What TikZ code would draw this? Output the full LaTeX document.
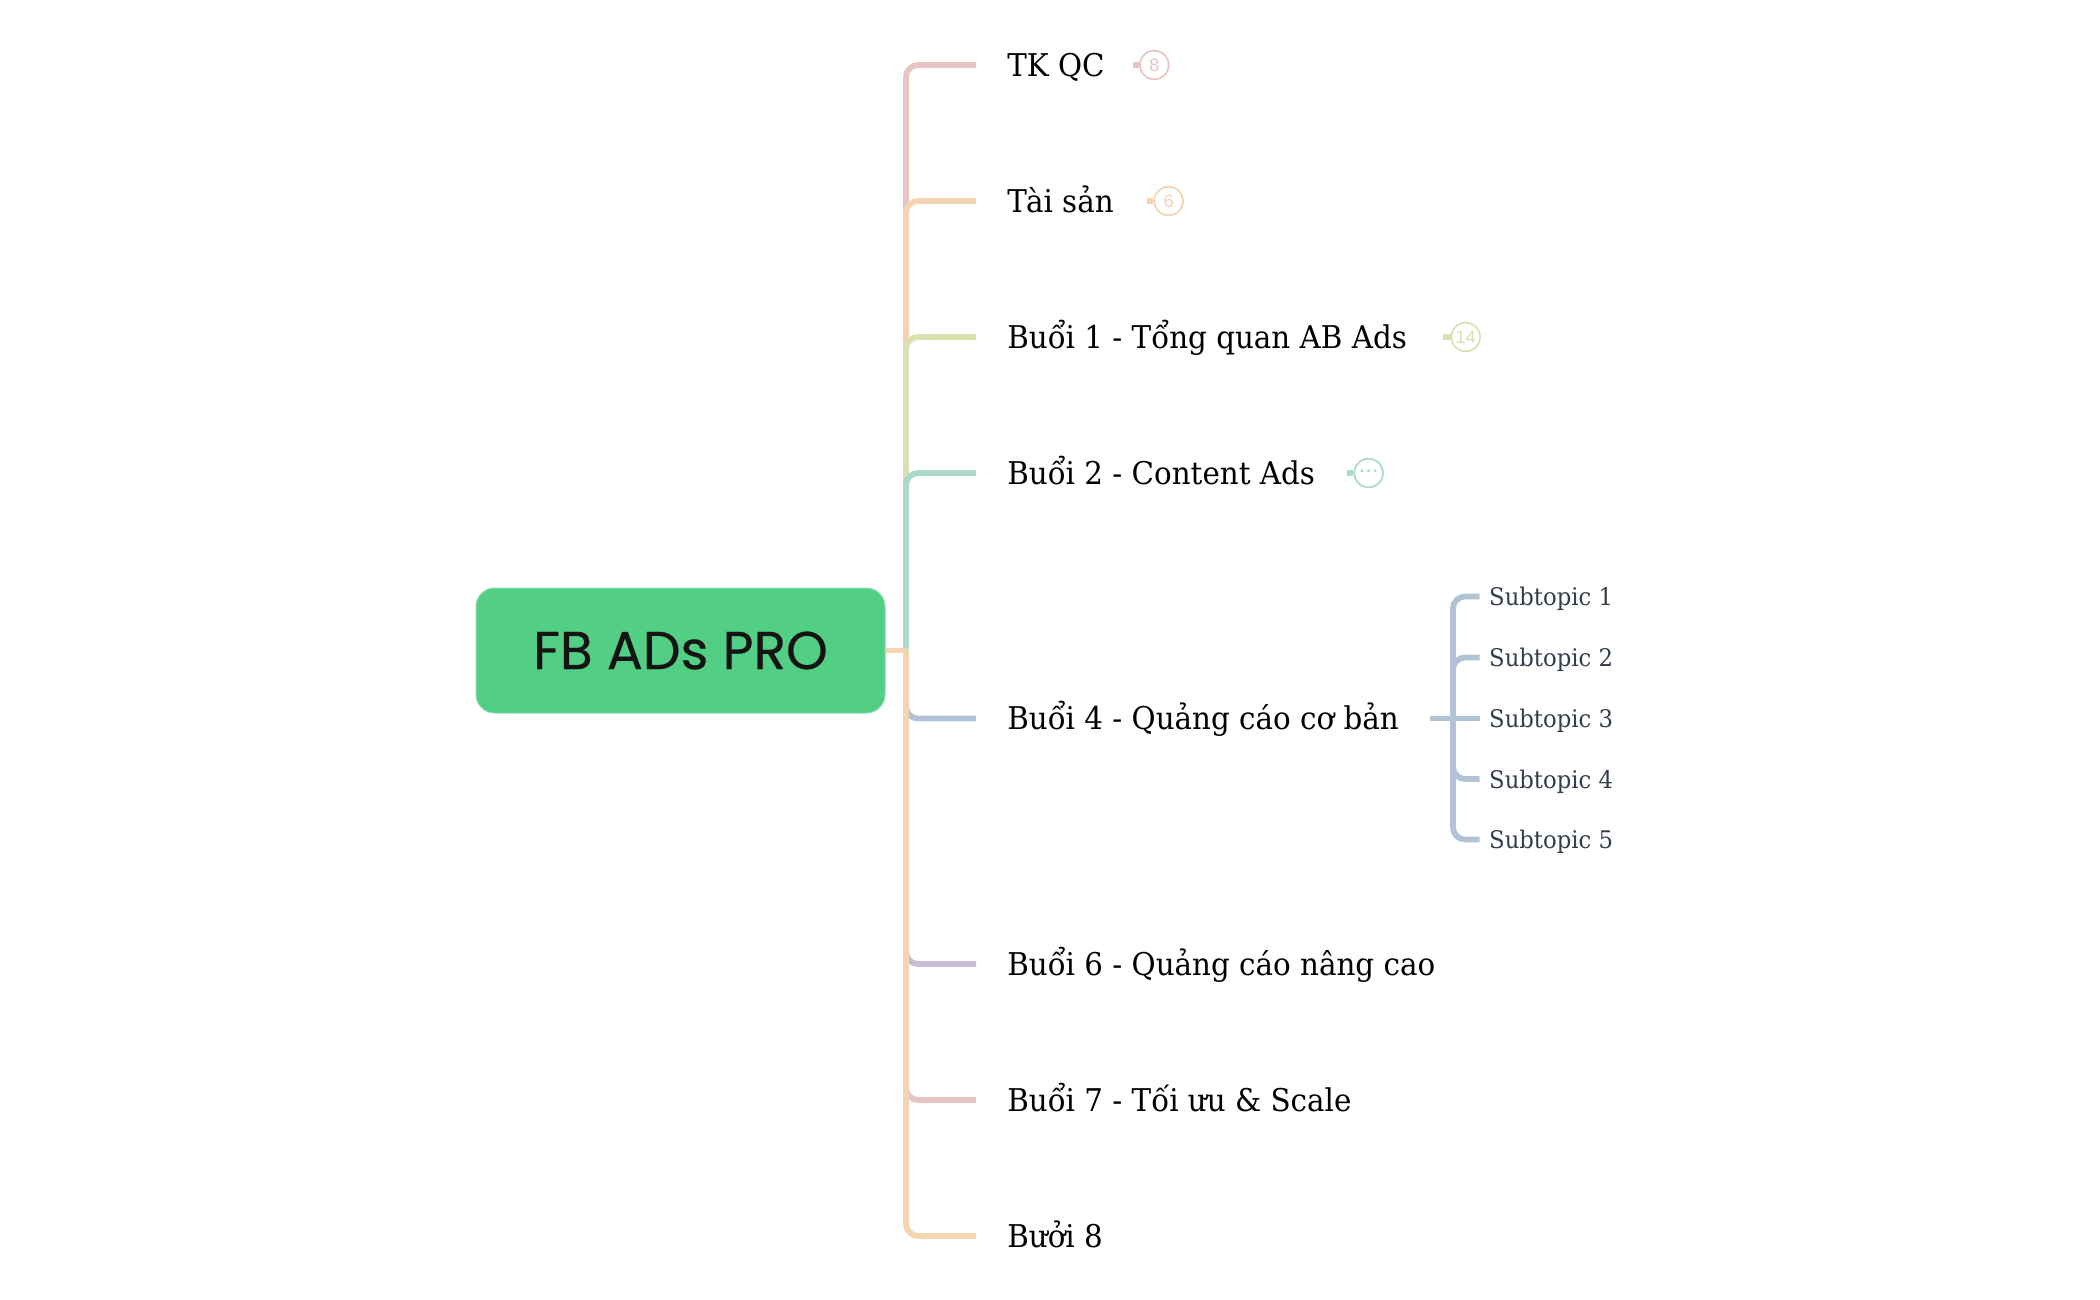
\documentclass[tikz,border=0pt]{standalone}
\usepackage{fontspec}
\setmainfont[FakeStretch=0.937]{DejaVu Serif}
\newfontfamily\titlefont[FakeBold=0.4]{Poppins}
\newfontfamily\badgefont{Liberation Sans}
\definecolor{cpink}{HTML}{E8C5C5}
\definecolor{corange}{HTML}{F3D5B2}
\definecolor{cgreen}{HTML}{DDE0AF}
\definecolor{cteal}{HTML}{ACD9CE}
\definecolor{cblue}{HTML}{B2C3D6}
\definecolor{cpurple}{HTML}{CABCD2}
\definecolor{cbox}{HTML}{53CE85}
\definecolor{csub}{HTML}{343D4B}
\tikzset{
  conn/.style={line width=4.4pt,rounded corners=9pt},
  topic/.style={anchor=west,inner xsep=23.25pt,inner ysep=0pt,text height=16.5pt,text depth=0pt,text=black,
    font=\fontsize{23.5pt}{28pt}\selectfont},
  subtopic/.style={anchor=west,inner xsep=7pt,inner ysep=0pt,text height=13.5pt,text depth=0pt,text=csub,
    font=\fontsize{18.2pt}{22pt}\selectfont},
  rootbox/.style={rounded corners=14pt,fill=cbox,draw=cbox!70!white,line width=0.75pt,minimum width=306.75pt,minimum height=93.75pt,
    font=\titlefont\fontsize{40pt}{46pt}\selectfont,text=black!92},
  badge/.style={circle,draw=#1,text=#1,line width=1.3pt,minimum size=21.5pt,inner sep=0pt,fill=white,
    font=\badgefont\fontsize{13.5pt}{15pt}\selectfont},
  stub/.style={line width=4.4pt,#1},
}
\begin{document}
\begin{tikzpicture}[x=0.75pt,y=-0.75pt]
\useasboundingbox (0,0) rectangle (2100,1300);
\node[rootbox] (root) at (680.5,650.5) {FB ADs PRO};
\coordinate (hub) at (906,650.5);
\node[topic] (t1) at (976,65) {TK QC};
\node[topic] (t2) at (976,201) {Tài sản};
\node[topic] (t3) at (976,337) {Buổi 1 - Tổng quan AB Ads};
\node[topic] (t4) at (976,473) {Buổi 2 - Content Ads};
\node[topic] (t5) at (976,718.5) {Buổi 4 - Quảng cáo cơ bản};
\node[topic] (t6) at (976,964) {Buổi 6 - Quảng cáo nâng cao};
\node[topic] (t7) at (976,1100) {Buổi 7 - Tối ưu \& Scale};
\node[topic] (t8) at (976,1236) {Bưởi 8};
\node[subtopic] (s1) at (1479.6,596.5) {Subtopic 1};
\node[subtopic] (s2) at (1479.6,657.5) {Subtopic 2};
\node[subtopic] (s3) at (1479.6,718.5) {Subtopic 3};
\node[subtopic] (s4) at (1479.6,779) {Subtopic 4};
\node[subtopic] (s5) at (1479.6,839.5) {Subtopic 5};
\coordinate (subhub) at (1453,718.5);
\node[badge=cpink] (b1) at (1154.3,65) {8};
\node[badge=corange] (b2) at (1168.6,201) {6};
\node[badge=cgreen] (b3) at (1465.7,337) {14};
\node[badge=cteal] (b4) at (1368.6,473) {\raisebox{3pt}{\fontsize{18pt}{18pt}\selectfont...}};
\coordinate (c1) at (1133,65);
\coordinate (c2) at (1147,201);
\coordinate (c3) at (1443,337);
\coordinate (c4) at (1347,473);
\draw[conn,cpink] (hub) |- (t1.west);
\draw[conn,corange] (hub) |- (t2.west);
\draw[conn,cgreen] (hub) |- (t3.west);
\draw[conn,cteal] (hub) |- (t4.west);
\draw[conn,cblue] (hub) |- (t5.west);
\draw[conn,cpurple] (hub) |- (t6.west);
\draw[conn,cpink] (hub) |- (t7.west);
\draw[conn,corange] (hub) |- (t8.west);
\draw[line width=4.4pt,corange] (root.east) -- ([xshift=1.6pt]hub);
\draw[conn,cblue] (subhub) |- (s1.west);
\draw[conn,cblue] (subhub) |- (s2.west);
\draw[conn,cblue] (subhub) |- (s4.west);
\draw[conn,cblue] (subhub) |- (s5.west);
\draw[stub=cblue] (t5.east) -- (s3.west);
\draw[stub=cpink] (c1) -- (b1.west);
\draw[stub=corange] (c2) -- (b2.west);
\draw[stub=cgreen] (c3) -- (b3.west);
\draw[stub=cteal] (c4) -- (b4.west);
\end{tikzpicture}
\end{document}
